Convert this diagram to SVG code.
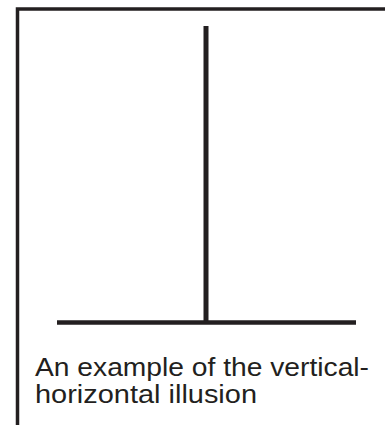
<svg xmlns="http://www.w3.org/2000/svg" width="385" height="425" viewBox="0 0 385 425">
<style>
.ln{stroke:#231f20;fill:none;stroke-linecap:butt}
.t{font-family:"Liberation Sans",Arial,sans-serif;font-size:25px;fill:#231f20}
</style>
<rect width="385" height="425" fill="#fff"/>
<g id="frame">
<path class="ln" d="M17.5 425 V9 H385" stroke-width="3.5"/>
</g>
<g id="figure">
<line class="ln" x1="206" y1="26" x2="206" y2="322" stroke-width="5"/>
<line class="ln" x1="57" y1="322.5" x2="356" y2="322.5" stroke-width="4.5"/>
</g>
<g id="caption">
<text class="t" x="35" y="376" textLength="334" lengthAdjust="spacingAndGlyphs">An example of the vertical-</text>
<text class="t" x="35" y="403" textLength="222" lengthAdjust="spacingAndGlyphs">horizontal illusion</text>
</g>
</svg>
